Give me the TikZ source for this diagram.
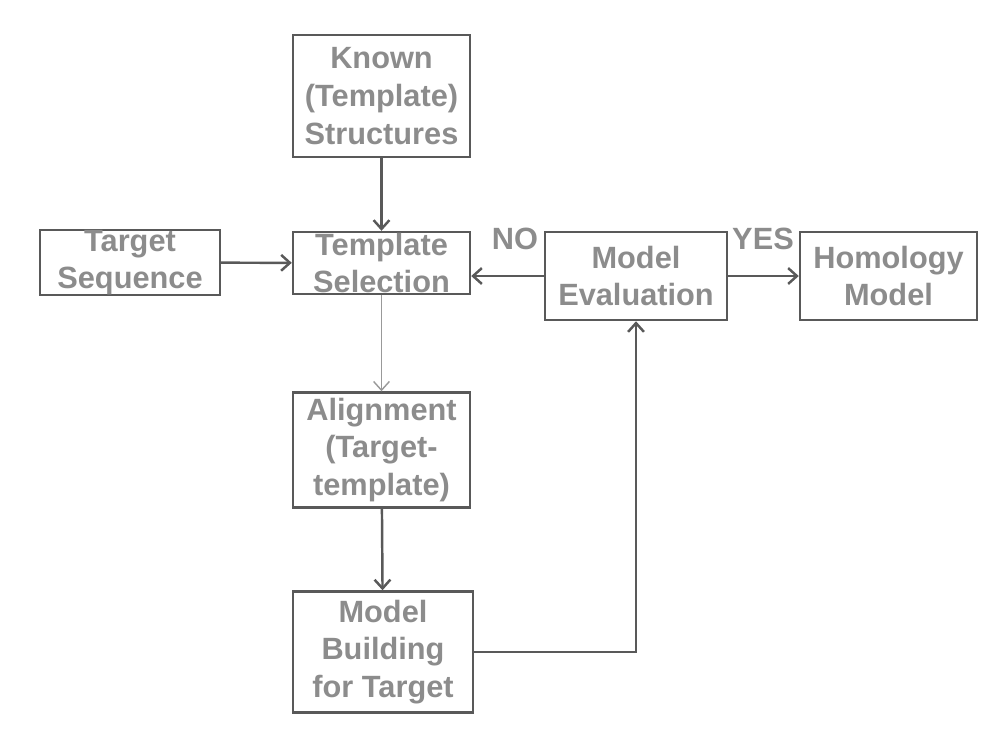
\documentclass[tikz,border=0pt]{standalone}
\usepackage{fontspec}
\setmainfont{Liberation Sans}
\usetikzlibrary{arrows.meta,positioning,calc}

\tikzset{
	stepbox/.style={draw=black!65, line width=1.4pt, align=center, inner sep=0pt,
		font=\fontsize{17.5}{21.5}\selectfont\bfseries, text=black!45},
	link/.style={draw=black!65, line width=1.4pt, -{Straight Barb[length=5pt,width=9pt]}},
	tag/.style={font=\fontsize{17.5}{21.5}\selectfont\bfseries, text=black!45, inner sep=0pt}
}

\begin{document}
\begin{tikzpicture}
	\useasboundingbox (0,0) rectangle (20,-14.88);
	
	\node[stepbox, minimum width=3.54cm, minimum height=2.44cm] (known) at (7.63,-1.92) {Known\\(Template)\\Structures};
	\node[stepbox, minimum width=3.6cm, minimum height=1.22cm] (target) at (2.6,-5.25) {Target\\Sequence};
	\node[stepbox, minimum width=3.54cm, minimum height=1.24cm] (select) at (7.63,-5.26) {Template\\Selection};
	\node[stepbox, minimum width=3.64cm, minimum height=1.76cm] (evalu) at (12.72,-5.52) {Model\\Evaluation};
	\node[stepbox, minimum width=3.54cm, minimum height=1.76cm] (homol) at (17.77,-5.52) {Homology\\Model};
	\node[stepbox, minimum width=3.54cm, minimum height=2.3cm] (align) at (7.63,-9.0) {Alignment\\(Target-\\template)};
	\node[stepbox, minimum width=3.6cm, minimum height=2.42cm] (build) at (7.66,-13.04) {Model\\Building\\for Target};
	
	\draw[link] (known) -- (select);
	\draw[link] (target) -- (select);
	\draw[link] (evalu.west) -- (evalu.west -| select.east);
	\draw[link] (evalu) -- (homol);
	\draw[link, draw=black!40, line width=0.8pt] (select) -- (align);
	\draw[link] (align) -- (build);
	\draw[link] (build.east) -| (evalu.south);
	
	\node[tag] (nolab) at (10.3,-4.78) {NO};
	\node[tag] (yeslab) at (15.26,-4.78) {YES};
\end{tikzpicture}
\end{document}
